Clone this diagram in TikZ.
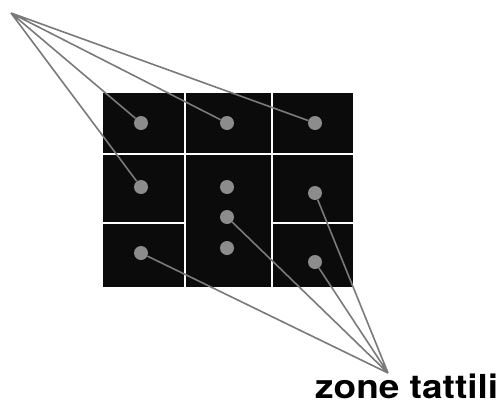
\documentclass[tikz,border=0pt]{standalone}
\usepackage{fontspec}
\newfontfamily\labelfont{TeX Gyre Heros}
\usetikzlibrary{%
  positioning%
}
\definecolor{pad}{HTML}{0B0B0B}
\definecolor{spot}{HTML}{8C8C8C}
\definecolor{wire}{HTML}{7A7A7A}

\begin{document}
\begin{tikzpicture}[x=1pt,y=-1pt,
	cell/.style={
	fill=pad
	},spot/.style={
	circle,inner sep=0pt,minimum size=14pt,
	fill=spot
	},wire/.style={
	draw=wire,line width=1.6pt
	},caption/.style={
	font=\labelfont\bfseries\fontsize{33}{34}\selectfont,
	inner sep=0pt,xscale=1.12,transform shape
	}
]
\useasboundingbox[fill=white] (0,0) rectangle (501,405);

% black pads
\fill[cell] (103,93) rectangle (184,153);
\fill[cell] (186,93) rectangle (271,153);
\fill[cell] (273,93) rectangle (353,153);
\fill[cell] (103,155) rectangle (184,222);
\fill[cell] (186,155) rectangle (271,287);
\fill[cell] (273,155) rectangle (353,222);
\fill[cell] (103,224) rectangle (184,287);
\fill[cell] (273,224) rectangle (353,287);

% free ends of the bundles
\coordinate (top) at (11,13);
\coordinate (tip) at (388,373);

\node (s11) [spot] at (141,123) {};
\node (s12) [spot] at (227,123) {};
\node (s13) [spot] at (315,123) {};
\node (s21) [spot] at (141,187) {};
\node (s22) [spot] at (227,187) {};
\node (s23) [spot] at (315,193) {};
\node (s2m) [spot] at (227,217) {};
\node (s3m) [spot] at (227,248) {};
\node (s31) [spot] at (141,253) {};
\node (s33) [spot] at (315,262) {};

%	the two bundles
\path[wire] (top) -- (s11) (top) -- (s12) (top) -- (s13) (top) -- (s21);
\path[wire] (tip) -- (s31) (tip) -- (s2m) (tip) -- (s33) (tip) -- (s23);

\node (zone) [caption,anchor=base west] at (315,398) {zone tattili};

\end{tikzpicture}
\end{document}
